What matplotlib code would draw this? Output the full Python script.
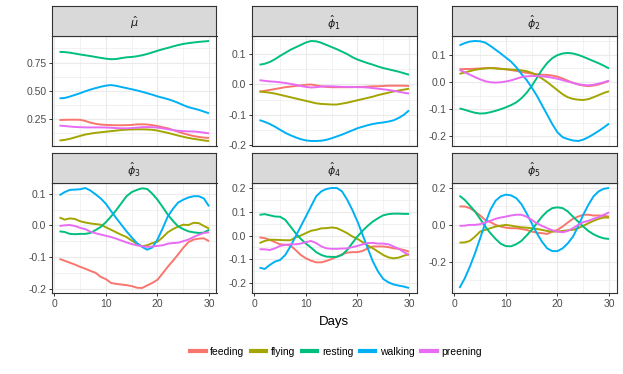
import matplotlib
matplotlib.use("Agg")
import matplotlib.pyplot as plt
from matplotlib.lines import Line2D
from matplotlib.ticker import MultipleLocator, AutoMinorLocator, FormatStrFormatter

plt.rcParams['font.family'] = ['Liberation Sans', 'DejaVu Sans']
plt.rcParams['mathtext.fontset'] = 'dejavusans'

# Data
days = list(range(1, 31))
behaviours = ["feeding", "flying", "resting", "walking", "preening"]
colors = ["#F8766D", "#A3A500", "#00BF7D", "#00B0F6", "#E76BF3"]

feeding_mu = [0.243, 0.245, 0.246, 0.246, 0.245, 0.235, 0.22, 0.21, 0.203, 0.200, 0.198, 0.197, 0.197, 0.198, 0.200,
              0.205, 0.205, 0.204, 0.198, 0.19, 0.18, 0.17, 0.155, 0.14, 0.125, 0.113, 0.102, 0.094, 0.088, 0.085]
flying_mu = [0.062, 0.068, 0.077, 0.09, 0.103, 0.115, 0.123, 0.13, 0.135, 0.14, 0.145, 0.15, 0.155, 0.158, 0.16,
             0.161, 0.161, 0.16, 0.157, 0.15, 0.14, 0.13, 0.118, 0.106, 0.095, 0.085, 0.077, 0.07, 0.063, 0.058]
resting_mu = [0.845, 0.843, 0.838, 0.830, 0.822, 0.815, 0.808, 0.800, 0.792, 0.785, 0.780, 0.782, 0.790, 0.797, 0.800,
              0.806, 0.815, 0.826, 0.840, 0.855, 0.868, 0.880, 0.893, 0.905, 0.915, 0.922, 0.928, 0.933, 0.937, 0.941]
walking_mu = [0.435, 0.438, 0.45, 0.465, 0.48, 0.497, 0.512, 0.525, 0.537, 0.547, 0.552, 0.545, 0.535, 0.525, 0.515,
              0.505, 0.493, 0.48, 0.467, 0.452, 0.44, 0.428, 0.413, 0.395, 0.375, 0.357, 0.345, 0.333, 0.318, 0.302]
preening_mu = [0.194, 0.19, 0.186, 0.182, 0.18, 0.178, 0.178, 0.178, 0.178, 0.177, 0.175, 0.172, 0.17, 0.17, 0.172,
               0.176, 0.18, 0.181, 0.18, 0.176, 0.17, 0.162, 0.155, 0.148, 0.145, 0.143, 0.142, 0.138, 0.132, 0.125]

feeding_phi1 = [-0.024, -0.021, -0.018, -0.015, -0.012, -0.009, -0.007, -0.005, -0.003, -0.001, 0.0, -0.003, -0.006,
                -0.008, -0.009, -0.009, -0.009, -0.009, -0.009, -0.008, -0.008, -0.007, -0.006, -0.006, -0.005, -0.004,
                -0.004, -0.004, -0.004, -0.005]
flying_phi1 = [-0.023, -0.025, -0.027, -0.03, -0.034, -0.038, -0.042, -0.046, -0.05, -0.054, -0.058, -0.062, -0.064,
               -0.065, -0.066, -0.066, -0.063, -0.06, -0.056, -0.052, -0.048, -0.044, -0.04, -0.035, -0.031, -0.027,
               -0.023, -0.02, -0.017, -0.014]
resting_phi1 = [0.065, 0.068, 0.074, 0.083, 0.094, 0.104, 0.114, 0.122, 0.13, 0.138, 0.143, 0.142, 0.137, 0.13, 0.123,
                0.116, 0.108, 0.1, 0.09, 0.082, 0.076, 0.07, 0.065, 0.059, 0.054, 0.05, 0.046, 0.042, 0.037, 0.032]
walking_phi1 = [-0.117, -0.123, -0.13, -0.139, -0.149, -0.159, -0.167, -0.174, -0.18, -0.184, -0.186, -0.186, -0.185,
                -0.182, -0.177, -0.171, -0.165, -0.158, -0.151, -0.144, -0.139, -0.134, -0.13, -0.127, -0.125, -0.122,
                -0.118, -0.11, -0.1, -0.085]
preening_phi1 = [0.014, 0.012, 0.01, 0.009, 0.007, 0.005, 0.002, -0.001, -0.005, -0.008, -0.01, -0.009, -0.007, -0.006,
                 -0.006, -0.007, -0.008, -0.008, -0.008, -0.009, -0.009, -0.01, -0.012, -0.014, -0.016, -0.018, -0.021,
                 -0.024, -0.027, -0.03]

feeding_phi2 = [0.047, 0.048, 0.048, 0.049, 0.05, 0.051, 0.052, 0.051, 0.049, 0.047, 0.044, 0.041, 0.037, 0.034, 0.031,
                0.029, 0.027, 0.026, 0.024, 0.02, 0.013, 0.005, -0.003, -0.009, -0.013, -0.015, -0.013, -0.009, -0.003,
                0.004]
flying_phi2 = [0.03, 0.035, 0.04, 0.045, 0.048, 0.05, 0.051, 0.05, 0.048, 0.047, 0.046, 0.045, 0.043, 0.04, 0.034,
               0.025, 0.013, 0.0, -0.015, -0.03, -0.045, -0.056, -0.062, -0.065, -0.066, -0.063, -0.056, -0.048, -0.04,
               -0.034]
resting_phi2 = [-0.097, -0.102, -0.108, -0.113, -0.116, -0.115, -0.111, -0.106, -0.1, -0.093, -0.085, -0.075, -0.06,
                -0.04, -0.015, 0.015, 0.045, 0.07, 0.088, 0.099, 0.105, 0.107, 0.105, 0.1, 0.093, 0.085, 0.077, 0.069,
                0.06, 0.05]
walking_phi2 = [0.135, 0.143, 0.149, 0.151, 0.15, 0.145, 0.133, 0.119, 0.105, 0.09, 0.075, 0.055, 0.03, 0.008, -0.02,
                -0.05, -0.085, -0.12, -0.155, -0.185, -0.203, -0.21, -0.215, -0.217, -0.212, -0.203, -0.192, -0.18,
                -0.167, -0.153]
preening_phi2 = [0.045, 0.036, 0.027, 0.018, 0.01, 0.003, -0.001, -0.002, -0.001, 0.002, 0.006, 0.012, 0.018, 0.021,
                 0.022, 0.022, 0.021, 0.019, 0.016, 0.012, 0.007, 0.002, -0.003, -0.008, -0.011, -0.012, -0.01, -0.006,
                 -0.001, 0.005]

feeding_phi3 = [-0.106, -0.112, -0.118, -0.124, -0.131, -0.137, -0.144, -0.150, -0.163, -0.17, -0.182, -0.185, -0.187,
                -0.189, -0.192, -0.197, -0.198, -0.19, -0.182, -0.172, -0.152, -0.131, -0.112, -0.092, -0.071, -0.053,
                -0.045, -0.042, -0.041, -0.05]
flying_phi3 = [0.025, 0.018, 0.022, 0.02, 0.013, 0.009, 0.006, 0.004, 0.002, -0.006, -0.014, -0.022, -0.03, -0.037,
               -0.048, -0.058, -0.066, -0.063, -0.056, -0.052, -0.038, -0.022, -0.012, -0.004, 0.002, 0.001, 0.008,
               0.007, -0.002, -0.01]
resting_phi3 = [-0.019, -0.021, -0.027, -0.028, -0.027, -0.027, -0.024, -0.015, -0.005, 0.01, 0.028, 0.048, 0.07,
                0.092, 0.105, 0.112, 0.117, 0.115, 0.1, 0.081, 0.058, 0.034, 0.014, -0.003, -0.012, -0.019, -0.022,
                -0.024, -0.023, -0.014]
walking_phi3 = [0.095, 0.105, 0.112, 0.113, 0.114, 0.118, 0.11, 0.098, 0.085, 0.068, 0.045, 0.023, 0.002, -0.019,
                -0.038, -0.056, -0.068, -0.077, -0.07, -0.045, -0.01, 0.028, 0.052, 0.072, 0.081, 0.088, 0.092, 0.092,
                0.085, 0.06]
preening_phi3 = [-0.002, 0.0, 0.001, -0.002, -0.008, -0.012, -0.02, -0.025, -0.029, -0.033, -0.037, -0.042, -0.048,
                 -0.054, -0.059, -0.063, -0.066, -0.068, -0.067, -0.065, -0.063, -0.058, -0.056, -0.055, -0.05, -0.045,
                 -0.037, -0.03, -0.024, -0.022]

feeding_phi4 = [-0.008, -0.011, -0.018, -0.028, -0.037, -0.039, -0.042, -0.061, -0.082, -0.096, -0.106, -0.113, -0.113,
                -0.107, -0.099, -0.089, -0.079, -0.072, -0.07, -0.07, -0.065, -0.054, -0.046, -0.046, -0.046, -0.049,
                -0.054, -0.056, -0.061, -0.068]
flying_phi4 = [-0.032, -0.023, -0.018, -0.018, -0.019, -0.02, -0.02, -0.008, 0.0, 0.01, 0.02, 0.024, 0.03, 0.031, 0.034,
               0.031, 0.021, 0.01, -0.004, -0.014, -0.028, -0.042, -0.054, -0.068, -0.082, -0.092, -0.096, -0.093,
               -0.085, -0.079]
resting_phi4 = [0.087, 0.09, 0.085, 0.08, 0.079, 0.066, 0.038, 0.01, -0.014, -0.034, -0.051, -0.07, -0.082, -0.089,
                -0.09, -0.09, -0.082, -0.061, -0.032, -0.004, 0.02, 0.041, 0.059, 0.073, 0.085, 0.09, 0.092, 0.092,
                0.091, 0.091]
walking_phi4 = [-0.135, -0.141, -0.124, -0.11, -0.103, -0.082, -0.046, -0.004, 0.038, 0.08, 0.123, 0.165, 0.186, 0.196,
                0.2, 0.2, 0.186, 0.151, 0.108, 0.059, 0.003, -0.054, -0.11, -0.152, -0.183, -0.197, -0.206, -0.211,
                -0.215, -0.221]
preening_phi4 = [-0.058, -0.058, -0.061, -0.054, -0.044, -0.039, -0.037, -0.037, -0.034, -0.028, -0.023, -0.032, -0.046,
                 -0.054, -0.056, -0.056, -0.055, -0.054, -0.049, -0.044, -0.037, -0.032, -0.031, -0.034, -0.034, -0.037,
                 -0.046, -0.056, -0.07, -0.082]

feeding_phi5 = [0.1, 0.1, 0.091, 0.073, 0.051, 0.027, 0.015, 0.0, -0.009, -0.015, -0.018, -0.018, -0.022, -0.027,
                -0.036, -0.042, -0.045, -0.049, -0.036, -0.027, -0.009, 0.013, 0.033, 0.045, 0.055, 0.055, 0.051, 0.051,
                0.049, 0.045]
flying_phi5 = [-0.096, -0.095, -0.087, -0.064, -0.036, -0.027, -0.018, -0.009, -0.004, 0.0, -0.004, -0.009, -0.013,
               -0.015, -0.018, -0.022, -0.027, -0.033, -0.036, -0.036, -0.033, -0.029, -0.027, -0.018, -0.005, 0.009,
               0.022, 0.033, 0.04, 0.04]
resting_phi5 = [0.158, 0.136, 0.105, 0.073, 0.033, -0.009, -0.045, -0.076, -0.102, -0.115, -0.116, -0.105, -0.087,
                -0.058, -0.027, 0.009, 0.045, 0.073, 0.091, 0.095, 0.091, 0.073, 0.045, 0.018, -0.009, -0.033, -0.051,
                -0.064, -0.073, -0.076]
walking_phi5 = [-0.342, -0.291, -0.227, -0.155, -0.073, 0.009, 0.082, 0.131, 0.155, 0.164, 0.16, 0.145, 0.113, 0.064,
                0.009, -0.045, -0.091, -0.127, -0.142, -0.142, -0.127, -0.1, -0.064, -0.009, 0.055, 0.109, 0.155, 0.182,
                0.196, 0.2]
preening_phi5 = [-0.005, -0.004, 0.0, 0.0, 0.004, 0.013, 0.022, 0.033, 0.04, 0.045, 0.051, 0.055, 0.055, 0.045, 0.027,
                 0.009, -0.005, -0.018, -0.029, -0.036, -0.04, -0.033, -0.018, 0.0, 0.015, 0.022, 0.033, 0.042, 0.055,
                 0.068]

panel_titles = [r"$\hat{\mu}$", r"$\hat{\phi}_1$", r"$\hat{\phi}_2$",
                r"$\hat{\phi}_3$", r"$\hat{\phi}_4$", r"$\hat{\phi}_5$"]
panel_series = [
    [feeding_mu, flying_mu, resting_mu, walking_mu, preening_mu],
    [feeding_phi1, flying_phi1, resting_phi1, walking_phi1, preening_phi1],
    [feeding_phi2, flying_phi2, resting_phi2, walking_phi2, preening_phi2],
    [feeding_phi3, flying_phi3, resting_phi3, walking_phi3, preening_phi3],
    [feeding_phi4, flying_phi4, resting_phi4, walking_phi4, preening_phi4],
    [feeding_phi5, flying_phi5, resting_phi5, walking_phi5, preening_phi5],
]
y_steps = [0.25, 0.1, 0.1, 0.1, 0.1, 0.2]
y_formats = ["%.2f", "%.1f", "%.1f", "%.1f", "%.1f", "%.1f"]

# Layout in pixels
W, H = 623, 374
col_left = [52, 252, 452]
panel_w = 164.5
row_top = [36, 183]
panel_h = 110
strip_h = 30

fig = plt.figure(figsize=(W / 100, H / 100), dpi=100)

for i in range(6):
    r, c = divmod(i, 3)
    left = col_left[c] / W
    bottom = 1 - (row_top[r] + panel_h) / H
    ax = fig.add_axes([left, bottom, panel_w / W, panel_h / H])
    for vals, col in zip(panel_series[i], colors):
        ax.plot(days, vals, color=col, lw=1.4, solid_capstyle="butt")
    ax.margins(x=0.05, y=0.05)
    ax.set_xlim(1 - 0.05 * 29, 30 + 0.05 * 29)
    ax.xaxis.set_major_locator(MultipleLocator(10))
    ax.xaxis.set_minor_locator(MultipleLocator(5))
    ax.yaxis.set_major_locator(MultipleLocator(y_steps[i]))
    ax.yaxis.set_minor_locator(AutoMinorLocator(2))
    ax.yaxis.set_major_formatter(FormatStrFormatter(y_formats[i]))
    ax.grid(True, which="major", color="#EBEBEB", lw=0.8)
    ax.grid(True, which="minor", color="#EBEBEB", lw=0.45)
    ax.set_axisbelow(True)
    for sp in ax.spines.values():
        sp.set_color("#333333")
        sp.set_linewidth(0.8)
    ax.tick_params(which="major", length=2.5, width=0.7, color="#333333",
                   labelsize=7.5, labelcolor="#4D4D4D", pad=1.5)
    ax.tick_params(which="minor", length=0)
    if r == 0:
        ax.tick_params(axis="x", which="major", length=0, labelbottom=False)

    # facet strip
    sax = fig.add_axes([left, 1 - row_top[r] / H, panel_w / W, strip_h / H])
    sax.set_facecolor("#D9D9D9")
    sax.set_xticks([])
    sax.set_yticks([])
    for sp in sax.spines.values():
        sp.set_color("#333333")
        sp.set_linewidth(0.8)
    sax.text(0.5, 0.45, panel_titles[i], ha="center", va="center",
             fontsize=8, color="#1A1A1A", transform=sax.transAxes)

fig.text(334 / W, 1 - 322 / H, "Days", ha="center", va="center", fontsize=9.5, color="black")

handles = [Line2D([0], [0], color=col, lw=3) for col in colors]
fig.legend(handles, behaviours, loc="center", bbox_to_anchor=(336 / W, 1 - 352 / H),
           ncol=5, frameon=False, fontsize=7.5, handlelength=1.5, handletextpad=0.45,
           columnspacing=0.6)

fig.savefig("out.png", dpi=100)
